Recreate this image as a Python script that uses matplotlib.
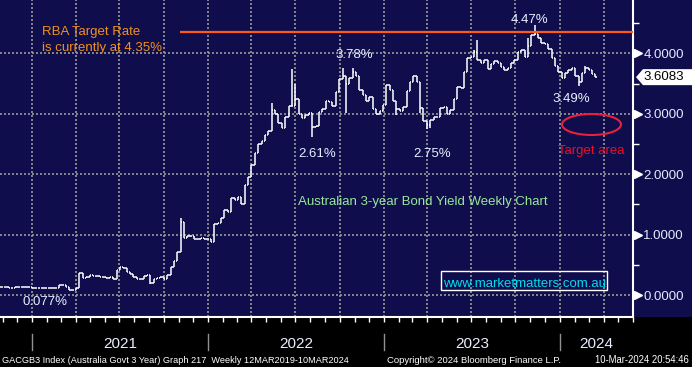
import numpy as np
import pandas as pd
import matplotlib
matplotlib.use("Agg")
import matplotlib.pyplot as plt
import matplotlib.dates as mdates
import matplotlib.transforms as mtrans
from matplotlib.patches import Rectangle, Ellipse, Polygon
from matplotlib.lines import Line2D
from matplotlib.ticker import FixedLocator, MultipleLocator, FormatStrFormatter

plt.rcParams['font.family'] = ['Liberation Sans', 'DejaVu Sans']

# ---------------- data ----------------
first_week = "2020-10-30"
closes = [
    0.14, 0.14, 0.11, 0.11, 0.13, 0.13, 0.13, 0.13, 0.13, 0.12, 0.12, 0.11, 0.12, 0.11, 0.12, 0.12,
    0.12, 0.16, 0.16, 0.13, 0.08, 0.09, 0.11,
    0.36, 0.28, 0.30, 0.33, 0.31, 0.31, 0.30, 0.30, 0.28, 0.30, 0.27,
    0.42, 0.47, 0.44, 0.38,
    0.34, 0.30, 0.27, 0.27, 0.32, 0.33, 0.20, 0.27, 0.29, 0.30, 0.26,
    0.33, 0.47, 0.56, 0.72, 1.21, 0.95, 0.98, 0.97, 0.93, 0.92, 0.95, 0.92, 0.93, 0.87,
    1.18, 1.20, 1.28, 1.40, 1.37, 1.60, 1.58, 1.63, 1.50, 1.82, 1.96, 2.15, 2.35, 2.50,
    2.55, 2.65, 2.72, 3.06, 3.00, 2.85, 2.77, 2.95, 3.13, 3.13, 3.25, 3.00, 2.93, 2.98, 3.02,
    2.79, 2.80, 3.03, 3.08, 3.22, 3.20, 3.13, 3.36, 3.58,
    3.62, 3.50, 3.60, 3.70, 3.62, 3.40, 3.32, 3.22, 3.28, 3.08, 3.00, 3.05, 3.15, 3.48, 3.40,
    3.22, 3.08, 3.05, 3.12, 3.38, 3.52, 3.62, 3.52, 3.10, 2.88, 2.82,
    2.90, 2.95, 2.95, 3.10, 3.12, 3.00, 3.06, 3.25, 3.45, 3.43, 3.70, 3.93, 3.95, 4.02, 3.90,
    3.85, 3.90, 3.75, 3.82, 3.88, 3.84, 3.78, 3.72, 3.76, 3.84, 3.90, 4.02, 4.06, 3.95,
    4.12, 4.30, 4.32, 4.25, 4.18, 4.15, 4.08, 3.92, 3.80, 3.70, 3.60, 3.68, 3.72, 3.76, 3.62,
    3.52, 3.68, 3.76, 3.72, 3.66, 3.6083,
]
spike_weeks = [18, 53, 80, 86, 87, 101, 104, 140, 141, 156, 158, 173]
spike_highs = [0.17, 1.27, 3.18, 3.74, 3.50, 3.76, 3.76, 4.05, 4.23, 4.25, 4.47, 3.80]
dip_weeks = [20, 44, 92, 102, 117, 124, 126, 127, 171]
dip_lows = [0.077, 0.19, 2.61, 3.02, 2.98, 3.02, 2.75, 2.77, 3.46]

rba_rate = 4.35
rba_line_start = "2021-11-03"
y_ticks = [0, 1, 2, 3, 4]
years = [2021, 2022, 2023, 2024]
view_start, view_end = "2020-10-26", "2024-06-01"

note_labels = ["3.78%", "2.61%", "2.75%", "4.47%", "3.49%", "0.077%"]

# ---------------- figure ----------------
W, H = 692, 367
navy = '#100d4c'
fig = plt.figure(figsize=(W / 100, H / 100), dpi=100, facecolor='black')
fig.add_artist(Rectangle((0, 50 / H), 1, 317 / H, transform=fig.transFigure,
                         facecolor=navy, edgecolor='none', zorder=0))
ax = fig.add_axes([0, 50 / H, 633 / W, 317 / H])
ax.set_facecolor(navy)

dates = pd.date_range(first_week, periods=len(closes), freq='7D')
c = np.array(closes)
o = np.concatenate([[c[0]], c[:-1]])
hi = np.maximum(o, c)
lo = np.minimum(o, c)
for w, v in zip(spike_weeks, spike_highs):
    hi[w] = max(hi[w], v)
for w, v in zip(dip_weeks, dip_lows):
    lo[w] = min(lo[w], v)

half = pd.Timedelta(days=3)
ax.vlines(dates, lo, hi, color='white', lw=1.1, zorder=3)
ax.hlines(o, dates - half, dates, color='white', lw=1.1, zorder=3)
ax.hlines(c, dates, dates + half, color='white', lw=1.1, zorder=3)

ax.set_xlim(pd.Timestamp(view_start), pd.Timestamp(view_end))
ax.set_ylim(-0.364, 4.886)

# RBA line
ax.hlines(rba_rate, pd.Timestamp(rba_line_start), pd.Timestamp(view_end),
          color='#ff5a14', lw=1.6, zorder=4)

# axes styling
for s in ['left', 'top']:
    ax.spines[s].set_visible(False)
for s in ['right', 'bottom']:
    ax.spines[s].set_color('white')
    ax.spines[s].set_linewidth(1.5)

ax.xaxis.set_major_locator(mdates.MonthLocator(bymonth=[1, 4, 7, 10]))
ax.xaxis.set_minor_locator(mdates.MonthLocator())
ax.tick_params(axis='x', which='both', direction='out', length=3.5, width=1,
               color='white', labelbottom=False)

ax.yaxis.tick_right()
ax.yaxis.set_major_locator(FixedLocator(y_ticks))
ax.yaxis.set_minor_locator(MultipleLocator(0.5))
ax.yaxis.set_major_formatter(FormatStrFormatter('%.4f'))
ax.tick_params(axis='y', which='major', length=0, pad=7.5, labelsize=9.5,
               labelcolor='#e4ecff')
ax.tick_params(axis='y', which='minor', length=4, width=1, color='white', direction='out')

ax.grid(which='major', axis='both', color='#9a9a9a', lw=1.2, ls=(0, (1.2, 1.2)), zorder=1)

tr_ad = mtrans.blended_transform_factory(ax.transAxes, ax.transData)
ax.plot([637.5 / 633] * len(y_ticks), y_ticks, ls='none', marker='>', ms=6,
        color='white', transform=tr_ad, clip_on=False, zorder=5)

# current value box
ppu = (317) / (4.886 + 0.364)
last = closes[-1]
dv = 8 / ppu
px = lambda p: p / 633
poly = Polygon([(px(636), last), (px(643), last + dv), (px(692), last + dv),
                (px(692), last - dv), (px(643), last - dv)], closed=True,
               transform=tr_ad, facecolor='white', edgecolor='none',
               clip_on=False, zorder=6)
ax.add_patch(poly)
ax.text(px(643), last, f"{last:.4f}", transform=tr_ad, color='black', size=9.5,
        va='center', ha='left', clip_on=False, zorder=7)

# ---------------- annotations ----------------
def ftxt(x, y, s, **kw):
    fig.text(x / W, 1 - y / H, s, va='baseline', **kw)

ftxt(42, 35, "RBA Target Rate", color='#f0901c', size=9.5)
ftxt(42, 51, "is currently at 4.35%", color='#f0901c', size=9.5)
lab_col = '#e6f0ff'
for s, (x, y) in zip(note_labels, [(335, 58), (298, 157), (413, 157), (511, 23), (552, 102), (23, 305)]):
    ftxt(x, y, s, color=lab_col, size=9.5)
ftxt(558, 154, "Target area", color='#e8102a', size=9.5)
fig.add_artist(Ellipse((591.5 / W, 1 - 124.5 / H), 59 / W, 21 / H, transform=fig.transFigure,
                       facecolor='none', edgecolor='#e8203c', lw=1.5, zorder=8))
ftxt(298, 205, "Australian 3-year Bond Yield Weekly Chart", color='#98e898', size=9.5)
fig.add_artist(Rectangle((441 / W, 1 - 290 / H), 166 / W, 19 / H, transform=fig.transFigure,
                         facecolor='none', edgecolor='white', lw=1, zorder=8))
ftxt(443, 287, "www.marketmatters.com.au", color='#00dcef', size=9.5)

# year separators and labels
tr_xf = mtrans.blended_transform_factory(ax.transData, fig.transFigure)
xmin, xmax = ax.get_xlim()
for yr in years:
    d0 = mdates.date2num(pd.Timestamp(f"{yr}-01-01"))
    d1 = mdates.date2num(pd.Timestamp(f"{yr + 1}-01-01"))
    fig.add_artist(Line2D([d0, d0], [1 - 334 / H, 1 - 350 / H], transform=tr_xf,
                          color='#909090', lw=1))
    mid = (max(d0, xmin) + min(d1, xmax)) / 2
    fig.text(mid, 1 - 348 / H, str(yr), transform=tr_xf, ha='center', va='baseline',
             size=11, color='#e8eeff')

# footer
foot = dict(color='white', family=['Liberation Sans', 'DejaVu Sans'])
ftxt(2, 363, "GACGB3 Index (Australia Govt 3 Year) Graph 217  Weekly 12MAR2019-10MAR2024", size=6.6, **foot)
ftxt(387, 363, "Copyright\u00a9 2024 Bloomberg Finance L.P.", size=6.8, **foot)
fig.text(689 / W, 1 - 363 / H, "10-Mar-2024 20:54:46", ha='right', va='baseline', size=6.85, **foot)

fig.savefig("out.png", dpi=100, facecolor='black')
